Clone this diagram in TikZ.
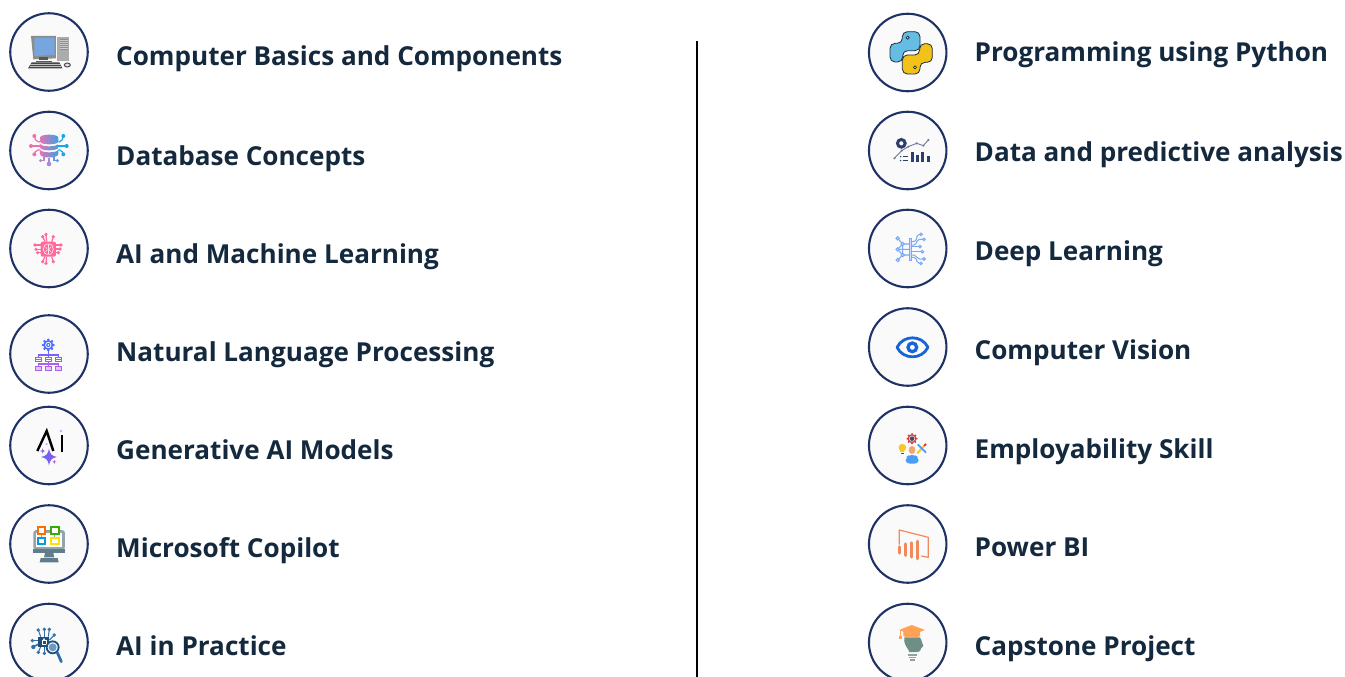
\documentclass[tikz,border=0pt]{standalone}
\usepackage{fontspec}
\setmainfont{Open Sans}
\definecolor{ink}{HTML}{14293D}
\definecolor{ringc}{HTML}{1F3266}
\definecolor{discfill}{HTML}{FAFAFA}
\tikzset{
  ring/.style={circle,draw=ringc,fill=discfill,line width=2.1pt,minimum size=77.5pt,inner sep=0pt},
  lbl/.style={anchor=base west,inner sep=0pt,text=ink,font=\fontsize{26.1}{30}\selectfont\bfseries},
  zl/.style={shift={(#1,0)},x=0.33333pt,y=-0.33333pt},
  zll/.style={shift={(#1,200)},x=0.33333pt,y=-0.33333pt},
  zlll/.style={shift={(#1,400)},x=0.33333pt,y=-0.33333pt},
}
\begin{document}
\begin{tikzpicture}[x=1pt,y=-1pt]
\useasboundingbox (0,0) rectangle (1345,677);
\fill[white] (0,0) rectangle (1345,677);
% divider
\coordinate (divtop) at (697,41);
\coordinate (divbot) at (697,677);
\draw[black,line width=1.8pt] (divtop) -- (divbot);
% rings
\foreach \n/\y in {a/52,b/150.5,c/248.5,d/354,e/445.5,f/544,g/642.5}{\node[ring] (\n) at (49,\y) {};}
\foreach \n/\y in {h/52.5,i/150.5,j/248.5,k/347,l/445.5,m/544,n/642.5}{\node[ring] (\n) at (907.7,\y) {};}
% labels
\node[lbl] (ta) at (116,66) {Computer Basics and Components};
\node[lbl] (tb) at (116,165) {Database Concepts};
\node[lbl] (tc) at (116,263) {AI and Machine Learning};
\node[lbl] (td) at (116,361) {Natural Language Processing};
\node[lbl] (te) at (116,459) {Generative AI Models};
\node[lbl] (tf) at (116,557) {Microsoft Copilot};
\node[lbl] (tg) at (116,655) {AI in Practice};
\node[lbl] (th) at (974.5,62) {Programming using Python};
\node[lbl] (ti) at (974.5,161) {Data and predictive analysis};
\node[lbl] (tj) at (974.5,260) {Deep Learning};
\node[lbl] (tk) at (974.5,359) {Computer Vision};
\node[lbl] (tl) at (974.5,458) {Employability Skill};
\node[lbl] (tm) at (974.5,556) {Power BI};
\node[lbl] (tn) at (974.5,655) {Capstone Project};
% ---------- computer
\begin{scope}[zl=0]
\fill[gray!65] (170,112) -- (207,112) -- (207,182) -- (170,182) -- cycle;
\fill[gray!90] (180,118) rectangle (204,150);
\foreach \yy in {122,128,134,140,146}{\draw[gray!40,line width=.5pt] (181,\yy) -- (203,\yy);}
\fill[black!45] (93,108) -- (168,108) -- (168,175) -- (100,178) -- cycle;
\fill[gray!70!black] (118,172) rectangle (145,180);
\fill[gray!70!black] (108,182) rectangle (155,186);
\fill[cyan!55!blue!55] (103,113) -- (164,113) -- (164,165) -- (103,168) -- cycle;
\fill[gray!55!black] (95,187) -- (178,187) -- (187,205) -- (84,205) -- cycle;
\foreach \yy in {193,199}{\draw[gray!50,line width=.5pt] (90,\yy) -- (182,\yy);}
\filldraw[fill=gray!25,draw=gray!60!black,line width=1pt] (202,195) ellipse (9 and 6);
\end{scope}
% ---------- database
\begin{scope}[zl=0]
\definecolor{dbp}{HTML}{EE6FB4}\definecolor{dbb}{HTML}{1AA7E8}\definecolor{dbm}{HTML}{A08FD0}
\foreach \px/\py/\qx/\qy in {103/408/120/425,93/438/120/438,103/463/120/450}{
  \draw[dbp,line width=1.2pt,rounded corners=2pt] (\qx,\qy) -- (108,\qy) -- (\px,\py);
  \fill[dbp] (\px,\py) circle (6);}
\foreach \px/\py/\qx/\qy in {190/408/175/425,200/438/175/438,190/463/175/450}{
  \draw[dbb,line width=1.2pt,rounded corners=2pt] (\qx,\qy) -- (185,\qy) -- (\px,\py);
  \fill[dbb] (\px,\py) circle (6);}
\draw[dbm!70!dbp,line width=1.2pt] (132,470) -- (132,482) -- (122,482);
\fill[dbm!70!dbp] (122,482) circle (5);
\draw[dbm,line width=1.2pt] (147,475) -- (147,492);
\fill[dbm] (147,492) circle (7);
\draw[dbm!50!dbb,line width=1.2pt] (162,470) -- (162,482) -- (172,482);
\fill[dbm!50!dbb] (172,482) circle (5);
\shade[left color=dbp!85!dbm,right color=dbb!75!dbm] (120,413) .. controls (120,401) and (175,401) .. (175,413) -- (175,424) .. controls (175,436) and (120,436) .. (120,424) -- cycle;
\shade[left color=dbp!85!dbm,right color=dbb!75!dbm] (120,430) .. controls (120,442) and (175,442) .. (175,430) -- (175,442) .. controls (175,454) and (120,454) .. (120,442) -- cycle;
\shade[left color=dbp!85!dbm,right color=dbb!75!dbm] (120,448) .. controls (120,460) and (175,460) .. (175,448) -- (175,462) .. controls (175,476) and (120,476) .. (120,462) -- cycle;
\end{scope}
% ---------- AI chip
\begin{scope}[zll=0]
\definecolor{chp}{HTML}{FF6A9E}\definecolor{chq}{HTML}{FF7FB8}
\foreach \px/\py/\qx/\qy in {128/110/135/125,138/103/140/125,160/110/155/125,105/135/122/135,108/148/122/148,113/158/122/158,128/185/135/170,138/190/140/170,160/185/155/170,183/135/168/135,180/147/168/147,175/158/168/158}{
  \draw[chp,line width=1.2pt] (\qx,\qy) -- (\px,\py);
  \fill[chp] (\px,\py) circle (5.5);}
\fill[chp,rounded corners=2pt] (122,125) rectangle (168,170);
\draw[white!80!chp,line width=.7pt] (145,132) -- (145,163);
\draw[white!80!chp,line width=.7pt] (145,132) .. controls (125,130) and (125,165) .. (145,163);
\draw[white!80!chp,line width=.7pt] (145,132) .. controls (165,130) and (165,165) .. (145,163);
\draw[white!80!chp,line width=.5pt] (137,140) -- (142,148) (153,140) -- (148,148) (137,155) -- (142,150) (153,155) -- (148,150);
\end{scope}
% ---------- NLP
\begin{scope}[zll=0]
\definecolor{nb}{HTML}{4C6BFF}\definecolor{nv}{HTML}{B060F0}\definecolor{nm}{HTML}{7A60F8}
\foreach \a in {0,45,...,315}{\fill[nb] (145,435) ++(\a:16) circle (4);}
\fill[nb] (145,435) circle (15);
\fill[discfill] (145,435) circle (9.5);
\fill[nb] (145,435) circle (6.5);
\fill[discfill] (145,435) circle (3);
\draw[nm,line width=1.1pt] (145,452) -- (145,465) (115,471) -- (115,465) -- (175,465) -- (175,471) (145,465) -- (145,471);
\draw[nv,line width=1.1pt] (145,486) -- (145,499) (115,499) -- (115,492) -- (175,492) -- (175,499);
\foreach \xx in {115,145,175}{
  \draw[nm!60!nv,line width=1.2pt] (\xx-9,472) rectangle (\xx+9,485);
  \draw[nm!60!nv,line width=.7pt] (\xx-9,478) -- (\xx+9,478);
  \draw[nv,line width=1.2pt,fill=nv!35] (\xx-9,500) rectangle (\xx+9,512);
}
\end{scope}
% ---------- Gen AI
\begin{scope}[zlll=0]
\definecolor{gv}{HTML}{A050F0}\definecolor{gb}{HTML}{5A6CF0}
\draw[black,line width=2.4pt,line join=miter] (112,153) -- (140,93) -- (160,153);
\draw[black,line width=2.1pt] (185,105) -- (185,155);
\fill[gv!50] (183,93) circle (4);
\fill[gv!50] (140,132) circle (3.5);
\shade[left color=gb,right color=gv] (147,146) .. controls (150,162) and (155,168) .. (171,171) .. controls (155,174) and (150,180) .. (147,196) .. controls (144,180) and (139,174) .. (123,171) .. controls (139,168) and (144,162) .. (147,146) -- cycle;
\fill[gv!70!gb] (128,145) -- (130,151) -- (136,153) -- (130,155) -- (128,161) -- (126,155) -- (120,153) -- (126,151) -- cycle;
\fill[gv] (163,179) -- (164.5,184) -- (169,185.5) -- (164.5,187) -- (163,192) -- (161.5,187) -- (157,185.5) -- (161.5,184) -- cycle;
\end{scope}
% ---------- Copilot monitor
\begin{scope}[zlll=0]
\definecolor{ms}{HTML}{93A5AB}\definecolor{md}{HTML}{607D8B}
\fill[ms,rounded corners=3pt] (100,390) rectangle (195,450);
\fill[white] (109,398) rectangle (186,442);
\fill[md] (100,446) rectangle (195,459);
\fill[md] (135,459) -- (160,459) -- (163,472) -- (132,472) -- cycle;
\fill[md] (122,474) -- (173,474) -- (176,487) -- (119,487) -- cycle;
\draw[gray!80,line width=1.1pt] (135,391) -- (153,391) (124,402) -- (124,412) (164,402) -- (164,412);
\draw[orange!85!red,line width=1.9pt,fill=white] (114,382) rectangle (135,402);
\draw[green!60!black!80!yellow,line width=1.9pt,fill=white] (154,382) rectangle (176,402);
\draw[cyan!85!blue,line width=1.9pt,fill=white] (114,413) rectangle (135,433);
\draw[yellow!85!orange,line width=1.9pt,fill=white] (154,413) rectangle (176,433);
\end{scope}
% ---------- AI in practice
\begin{scope}[zlll=0]
\definecolor{pb}{HTML}{2F6EA8}\definecolor{pd}{HTML}{1E4E7A}
\foreach \px/\py/\qx/\qy in {115/690/122/710,133/688/133/710,148/688/145/710,163/705/148/720,97/722/115/722,115/757/122/740,133/760/133/740}{
  \draw[pb,line width=1pt] (\qx,\qy) -- (\px,\py);
  \draw[pb,line width=1pt,fill=discfill] (\px,\py) circle (3.5);}
\draw[pb,line width=1.6pt] (115,733) -- (100,740);
\fill[pb] (100,741) circle (6.5);
\fill[pd] (115,710) rectangle (148,740);
\draw[white,line width=.7pt] (126,732) rectangle (138,722);
\draw[white,line width=.7pt] (128,722) .. controls (128,714) and (136,714) .. (136,722);
\draw[pd,line width=1.8pt,fill=discfill] (158,742) circle (18);
\fill[pb!70] (158,742) circle (12);
\draw[pb,line width=2.8pt,line cap=round] (172,758) -- (184,785);
\end{scope}
% ---------- Python
\begin{scope}[zl=860]
\definecolor{pyb}{HTML}{66BDE3}\definecolor{pyy}{HTML}{F2C21A}\definecolor{pyk}{HTML}{1E2A3A}
\draw[pyk,fill=pyb,line width=.8pt,rounded corners=5pt] (127,130) -- (127,95) -- (180,95) -- (180,152) -- (128,152) -- (128,186) -- (90,186) -- (90,130) -- cycle;
\draw[pyk,fill=pyy,line width=.8pt,rounded corners=5pt] (180,187) -- (180,222) -- (127,222) -- (127,165) -- (179,165) -- (179,131) -- (217,131) -- (217,187) -- cycle;
\draw[pyk,fill=white,line width=.8pt] (143,113) circle (4.5);
\draw[pyk,fill=white,line width=.8pt] (165,202) circle (4.5);
\end{scope}
% ---------- Data analysis
\begin{scope}[zl=860]
\definecolor{da}{HTML}{2A3F6B}\definecolor{dg}{HTML}{6C7C98}
\draw[da,line width=3pt] (124,430) circle (11.5);
\draw[dg,line width=.9pt] (103,475) -- (125,452) -- (145,440) -- (170,430) -- (190,437) -- (205,420);
\foreach \px/\py in {103/475,125/452,145/440,170/430,190/437,205/420}{\fill[dg] (\px,\py) circle (3.5);}
\fill[da] (153,455) rectangle (163,486);
\fill[da] (168,465) rectangle (177,486);
\fill[da] (183,455) rectangle (192,486);
\fill[da] (200,468) rectangle (210,486);
\fill[da] (122,470) circle (2.5);
\fill[da] (122,482) circle (2.5);
\draw[da,line width=.9pt] (128,470) -- (145,470) (128,482) -- (145,482);
\end{scope}
% ---------- Deep learning
\begin{scope}[zll=860]
\definecolor{dl}{HTML}{7AA9F8}
\tikzset{dln/.style={draw=dl,fill=dl!40,line width=1pt}}
\draw[dl,line width=1.1pt] (113,115) -- (128,132) -- (113,148) -- (128,165) -- (113,180) (128,132) -- (128,165) (128,132) -- (147,132) (128,165) -- (147,165) (113,148) -- (147,148);
\draw[dln] (147,115) rectangle (153,180);
\foreach \px/\py/\qx/\qy in {183/103/153/125,192/118/153/135,180/140/153/140,187/155/153/155,192/177/153/165,183/190/153/172}{
  \draw[dl,line width=1pt,rounded corners=2pt] (\qx,\qy) -- (168,\qy) -- (172,\py) -- (\px,\py);}
\foreach \px/\py in {113/115,128/132,113/148,128/165,113/180}{\draw[dln] (\px,\py) circle (5);}
\foreach \px/\py in {183/103,192/118,180/140,187/155,192/177,183/190}{\draw[dl,line width=1pt,fill=discfill] (\px,\py) circle (4);}
\end{scope}
% ---------- Eye
\begin{scope}[zll=860]
\definecolor{ey}{HTML}{1763D8}
\draw[ey,line width=2.8pt,line join=round] (111,442) .. controls (130,404) and (185,404) .. (204,442) .. controls (185,480) and (130,480) .. (111,442) -- cycle;
\draw[ey,line width=3.3pt] (157,442) circle (13);
\end{scope}
% ---------- Employability
\begin{scope}[zlll=860]
\definecolor{er}{HTML}{D0394B}\definecolor{ey}{HTML}{F9C623}\definecolor{eo}{HTML}{F2A76C}\definecolor{ebl}{HTML}{4A9CF5}
\foreach \a in {0,45,...,315}{\fill[er] (156,116) ++(\a:14) circle (3);}
\fill[er] (156,116) circle (13.5);
\fill[discfill] (156,116) circle (9);
\fill[gray!60!black] (156,116) circle (7);
\fill[ey] (127,143) circle (11.5);
\fill[ey] (121,150) rectangle (133,157);
\fill[gray!60!black] (123,158) rectangle (131,163);
\fill[eo] (156,150) ellipse (10 and 12);
\fill[ebl,rounded corners=4pt] (137,191) -- (137,172) -- (148,165) -- (164,165) -- (176,172) -- (176,191) -- cycle;
\draw[ey,line width=2pt] (172,160) -- (192,138);
\draw[er,line width=2pt] (192,138) -- (198,132);
\draw[ebl,line width=1.8pt] (173,133) -- (198,158);
\end{scope}
% ---------- Power BI
\begin{scope}[zlll=860]
\definecolor{pw}{HTML}{F08A5D}
\draw[pw,line width=1.2pt,line join=round] (118,434) -- (118,390) -- (205,412) -- (205,472) -- (184,468);
\foreach \xa/\ya/\yb in {118/437/463,136/428/470,155/425/475,172/420/480}{
  \draw[pw,line width=3.4pt,line cap=round] (\xa,\ya+4) -- (\xa,\yb-4);}
\end{scope}
% ---------- Capstone
\begin{scope}[zlll=860]
\definecolor{cg}{HTML}{6E8F86}\definecolor{co}{HTML}{FFA255}
\fill[cg] (133,712) -- (180,712) .. controls (186,722) and (186,730) .. (190,738) -- (184,744) .. controls (184,752) and (178,756) .. (168,756) -- (148,756) .. controls (146,745) and (130,738) .. (133,712) -- cycle;
\foreach \yy/\w in {765/13,772/11,780/7}{\draw[cg!80,line width=1.3pt] (158-\w,\yy) -- (158+\w,\yy);}
\fill[co] (130,695) -- (180,695) -- (180,708) .. controls (165,716) and (145,716) .. (130,708) -- cycle;
\fill[co] (117,690) -- (155,675) -- (195,690) -- (155,705) -- cycle;
\draw[co,line width=1.1pt] (122,692) -- (122,710);
\fill[co] (118,708) rectangle (126,717);
\end{scope}
\end{tikzpicture}
\end{document}
